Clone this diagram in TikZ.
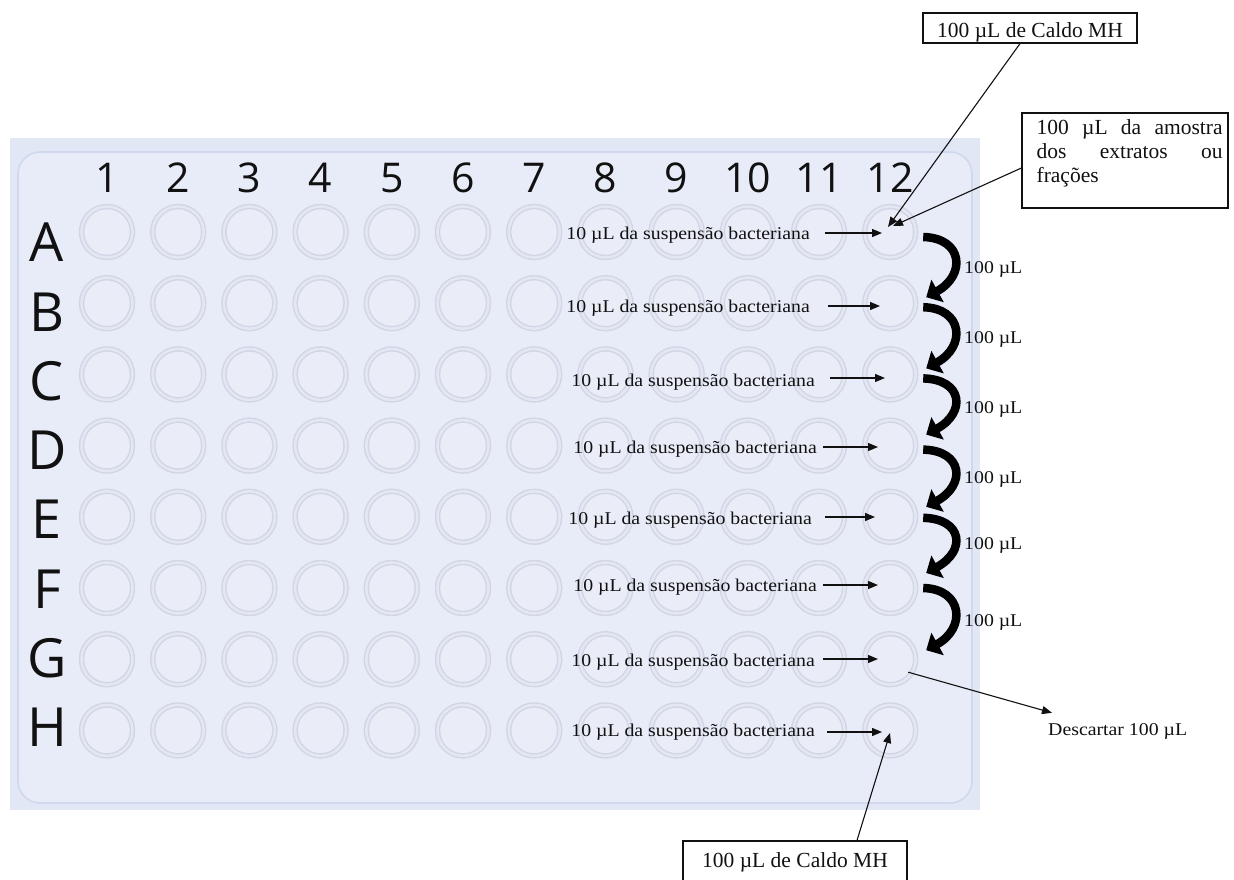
\documentclass[tikz,border=0pt]{standalone}
\usepackage{fontspec}
\setmainfont{Liberation Serif}
\newfontfamily\widefont[FakeStretch=1.1]{Liberation Serif}
\newfontfamily\platefont{Open Sans}
\usetikzlibrary{arrows.meta}

\definecolor{plateouter}{HTML}{E1E7F5}
\definecolor{plateinner}{HTML}{E8ECF8}
\definecolor{plateedge}{HTML}{D0D8EE}
\definecolor{wellring}{HTML}{D1D5E4}
\definecolor{wellband}{HTML}{E3E7F3}
\definecolor{wellfill}{HTML}{EAEDF8}
\definecolor{ink}{HTML}{111111}

\begin{document}
\begin{tikzpicture}[x=1pt,y=-1pt,
  well/.style={circle, minimum size=51pt, inner sep=0pt, draw=wellring,
    line width=1.4pt, double=wellband, double distance=2.6pt, fill=wellfill},
  rowlab/.style={font=\platefont\fontsize{54}{54}\selectfont, text=ink, inner sep=0pt},
  collab/.style={font=\platefont\fontsize{41}{41}\selectfont, text=ink, inner sep=0pt},
  sample/.style={font=\widefont\fontsize{18}{20}\selectfont, text=ink, inner sep=0pt},
  vol/.style={font=\widefont\fontsize{18}{20}\selectfont, text=ink, inner sep=0pt},
  feed/.style={draw=ink, line width=1.3pt, -{Triangle[length=10pt,width=8pt]}},
  diag/.style={draw=ink, line width=1.1pt, -{Triangle[length=10pt,width=8pt]}},
  transfer/.style={draw=black, line width=8.5pt, line cap=butt,
    -{Triangle[length=13pt,width=25pt]}},
  labelbox/.style={draw=ink, line width=1.2pt, fill=white, inner sep=0pt,
    font=\fontsize{21.5}{24}\selectfont, text=ink}
]
\useasboundingbox (0,0) rectangle (1234,880);
\fill[white] (0,0) rectangle (1234,880);

% plate body
\fill[plateouter] (10,138) rectangle (980,810);
\draw[plateedge, line width=1.6pt, fill=plateinner, rounded corners=22pt]
  (18,152) rectangle (972,803);

% row letters and the 8 x 12 wells
\foreach \r/\j in {A/0,B/1,C/2,D/3,E/4,F/5,G/6,H/7}{
  \node[rowlab] (row\r) at (47,{242.5+69.3*\j}) {\r};
  \foreach \c in {1,...,12}{
    \node[well] (w\r\c) at ({107+71.2*(\c-1)},{232+71.2*\j}) {};
  }
}
% column numbers
\foreach \c in {1,...,12}{
  \node[collab] (col\c) at ({107+71.2*(\c-1)},178) {\c};
}

% bacterial suspension added to column 12
\foreach \r/\tx/\ty/\gap/\bx/\ay in {
  A/810/239/15/882/233, B/810/312/18/880/306, C/815/386/15/885/378,
  D/817/453/6/878/447,  E/812/524/13/875/517, F/817/591/6/878/585,
  G/815/666/8/878/659,  H/815/736/12/882/732}{
  \node[sample, anchor=base east] (s\r) at (\tx,\ty) {10 µL da suspensão bacteriana};
  \coordinate (t\r) at (\bx,\ay);
  \draw[feed, shorten <=\gap pt] (s\r.east |- t\r) -- (t\r);
}

% serial dilution down column 12
\foreach \a/\b/\ya/\yb in {A/B/5/-6, B/C/4/-6, C/D/4/-11, D/E/4/-10, E/F/1/-15, F/G/0/-9}{
  \draw[transfer] ([shift={(33,\ya)}]w\a12.center)
    .. controls +(40,1) and +(40,-22) .. ([shift={(36,\yb)}]w\b12.center);
}
\foreach \k/\y in {1/273,2/343,3/413,4/483,5/549,6/626}{
  \node[vol, anchor=base west] (v\k) at (964,\y) {100 µL};
}

% broth and sample boxes
\node[labelbox, minimum width=214pt, minimum height=30pt,
  text height=20pt, text depth=1pt] (mhtop) at (1030,28) {100 µL de Caldo MH};
\coordinate (inA) at (888,227);
\draw[diag] ([xshift=-10pt]mhtop.south) -- (inA);

\node[labelbox, minimum width=206pt, minimum height=95pt] (amostra) at (1125,160.5) {};
\node[anchor=north west, align=left, inner sep=0pt, text=ink,
  font=\fontsize{21.5}{24}\selectfont] (amostratxt) at ([shift={(15,7)}]amostra.north west)
  {\makebox[186pt][s]{100 µL da amostra}\\\makebox[186pt][s]{dos extratos ou}\\\makebox[186pt][l]{frações}};
\coordinate (inA2) at (893,226);
\draw[diag] ([shift={(0,7.5)}]amostra.west) -- (inA2);

\node[labelbox, minimum width=224pt, minimum height=45pt,
  text height=12pt, text depth=5pt] (mhbot) at (795,863.5) {100 µL de Caldo MH};
\coordinate (inH) at (890,733);
\draw[diag] ([xshift=62pt]mhbot.north) -- (inH);

% discard from row G
\node[vol, anchor=base west] (descartar) at (1048,735) {Descartar 100 µL};
\draw[diag] ([shift={(18,13)}]wG12.center) -- ([shift={(4,-10)}]descartar.north west);
\end{tikzpicture}
\end{document}
